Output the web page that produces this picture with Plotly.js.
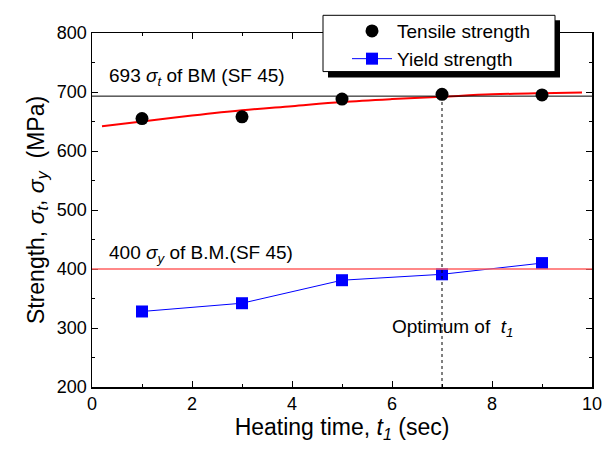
<!DOCTYPE html>
<html>
<head>
<meta charset="utf-8">
<script src="https://cdn.plot.ly/plotly-3.0.1.min.js"></script>
<style>body{margin:0;background:#fff}#c{width:612px;height:451px}</style>
</head>
<body>
<div id="c"></div>
<script>
// Data
const heatingTime = [1, 3, 5, 7, 9];
const tensileStrength = [655, 658, 688, 696, 695];
const yieldStrength = [328, 342, 381, 391, 410];
// Fitted curve of tensile strength
const fitX = [0.2, 1, 2, 3, 4, 5, 6, 7, 8, 9, 9.8];
const fitY = [642, 650, 660, 669, 676, 683, 688, 692, 696, 698, 699];
// Reference levels
const bmTensile = 693;
const bmYield = 400;
const optimumT = 7;
const xRange = [0, 10];
const yRange = [200, 800];

const F = 'Liberation Sans, Arial, sans-serif';

const traces = [
  {x: fitX, y: fitY, mode: 'lines', line: {color: '#ff0000', width: 2, shape: 'spline'}, showlegend: false, hoverinfo: 'skip'},
  {x: heatingTime, y: tensileStrength, mode: 'markers', name: 'Tensile strength',
   marker: {symbol: 'circle', size: 13, color: '#000000'}},
  {x: heatingTime, y: yieldStrength, mode: 'lines+markers', name: 'Yield strength',
   line: {color: '#0000ff', width: 1}, marker: {symbol: 'square', size: 12, color: '#0000ff'}}
];

const layout = {
  width: 612, height: 451,
  margin: {l: 92, r: 20, t: 29, b: 64},
  paper_bgcolor: '#fff', plot_bgcolor: '#fff',
  font: {family: F, size: 18, color: '#000'},
  xaxis: {
    range: xRange, dtick: 2, tick0: 0, showgrid: false, zeroline: false,
    showline: true, linecolor: '#000', linewidth: 1.5, mirror: 'allticks',
    ticks: 'inside', ticklen: 6, tickcolor: '#000',
    minor: {dtick: 1, ticks: 'inside', ticklen: 3, tickcolor: '#000', showgrid: false},
    tickfont: {size: 18},
    title: {text: 'Heating time, <i>t</i><sub><i>1</i></sub> (sec)', font: {size: 23}, standoff: 4}
  },
  yaxis: {
    range: yRange, dtick: 100, showgrid: false, zeroline: false,
    showline: true, linecolor: '#000', linewidth: 1.5, mirror: 'allticks',
    ticks: 'inside', ticklen: 6, tickcolor: '#000',
    minor: {dtick: 50, ticks: 'inside', ticklen: 3, tickcolor: '#000', showgrid: false},
    tickfont: {size: 18},
    title: {text: 'Strength, <i>σ</i><sub><i>t</i></sub>, <i>σ</i><sub><i>y</i></sub>  (MPa)', font: {size: 23}, standoff: 6}
  },
  shapes: [
    {type: 'line', xref: 'x', yref: 'y', x0: xRange[0], x1: xRange[1], y0: bmTensile, y1: bmTensile, line: {color: '#000', width: 1}},
    {type: 'line', xref: 'x', yref: 'y', x0: xRange[0], x1: xRange[1], y0: bmYield, y1: bmYield, line: {color: '#ff6060', width: 1.5}},
    {type: 'line', xref: 'x', yref: 'y', x0: optimumT, x1: optimumT, y0: yRange[0], y1: bmTensile, line: {color: '#000', width: 1, dash: 'dot'}},
    {type: 'rect', xref: 'paper', yref: 'paper', x0: 0.472, x1: 0.936, y0: 0.874, y1: 1.036, fillcolor: '#000', line: {width: 0}, layer: 'above'},
    {type: 'rect', xref: 'paper', yref: 'paper', x0: 0.462, x1: 0.926, y0: 0.891, y1: 1.050, fillcolor: '#fff', line: {color: '#000', width: 1}, layer: 'above'}
  ],
  legend: {
    x: 0.51, y: 1.059, xanchor: 'left', yanchor: 'top',
    bgcolor: 'rgba(0,0,0,0)', borderwidth: 0,
    font: {size: 19}, tracegroupgap: 0, itemwidth: 40
  },
  annotations: [
    {xref: 'x', yref: 'y', x: 0.3, y: 725, xanchor: 'left', yanchor: 'middle', showarrow: false,
     text: '693 <i>σ</i><sub><i>t</i></sub> of BM (SF 45)', font: {size: 19}},
    {xref: 'x', yref: 'y', x: 0.3, y: 426, xanchor: 'left', yanchor: 'middle', showarrow: false,
     text: '400 <i>σ</i><sub><i>y</i></sub> of B.M.(SF 45)', font: {size: 19}},
    {xref: 'x', yref: 'y', x: 5.96, y: 300, xanchor: 'left', yanchor: 'middle', showarrow: false,
     text: 'Optimum of  <i>t</i><sub><i>1</i></sub>', font: {size: 19}}
  ]
};

Plotly.newPlot('c', traces, layout, {displayModeBar: false, staticPlot: true});
</script>
</body>
</html>
